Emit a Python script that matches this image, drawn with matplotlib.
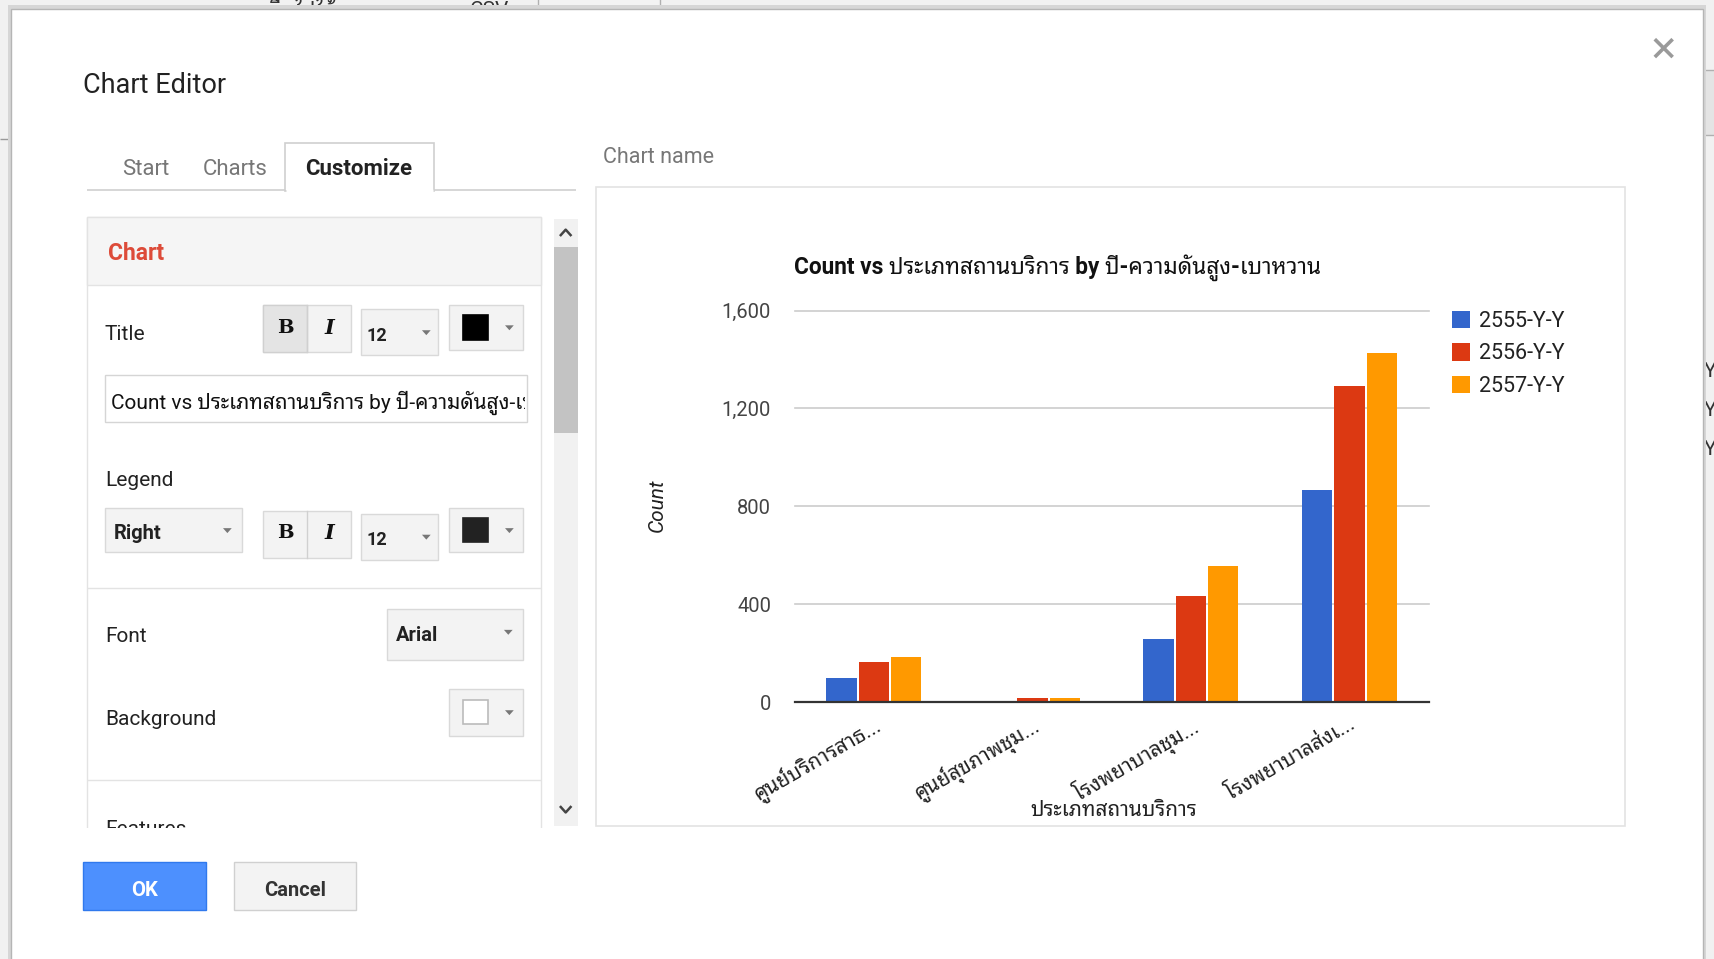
import matplotlib
matplotlib.use("Agg")
import numpy as np
import matplotlib.pyplot as plt
from matplotlib.patches import Rectangle, Polygon
from matplotlib.transforms import Bbox, TransformedBbox

plt.rcParams["font.family"] = ["Roboto", "Noto Sans Thai Looped", "DejaVu Sans"]

# ===== data =====
categories = ["ศูนย์บริการสาธ...", "ศูนย์สุขภาพชุม...", "โรงพยาบาลชุม...", "โรงพยาบาลส่งเ..."]
series_names = ["2555-Y-Y", "2556-Y-Y", "2557-Y-Y"]
y2555 = [98, 6, 258, 867]
y2556 = [165, 18, 433, 1292]
y2557 = [183, 17, 554, 1426]
yticks = [0, 400, 800, 1200, 1600]
ytick_labels = ["0", "400", "800", "1,200", "1,600"]
chart_title = "Count vs ประเภทสถานบริการ by ปี-ความดันสูง-เบาหวาน"
x_title = "ประเภทสถานบริการ"
y_title = "Count"
COLORS = ["#3366cc", "#dc3912", "#ff9900"]

# layout is done in the 1568x877 screen space, figure is 1714x959 px
W, H = 1568, 877
fig = plt.figure(figsize=(17.14, 9.59), dpi=100)
fig.patch.set_facecolor("#f1f1f1")

ui = fig.add_axes([0, 0, 1, 1], zorder=0)
ui.set_xlim(0, W)
ui.set_ylim(H, 0)
ui.axis("off")


def rect(x0, y0, x1, y1, fc="white", ec="none", lw=1.0, z=1):
    ui.add_patch(Rectangle((x0, y0), x1 - x0, y1 - y0, facecolor=fc, edgecolor=ec, lw=lw, zorder=z))


def hline(x0, x1, y, c="#e3e3e3", lw=1.0, z=2):
    ui.plot([x0, x1], [y, y], color=c, lw=lw, zorder=z, solid_capstyle="butt")


def txt(x, y, s, size=15, c="#222222", ha="left", va="center", weight="normal", z=3, dy=2, **kw):
    # small nudge: centred text sits a touch higher than in the screenshot
    if va == "center":
        y = y + dy
    return ui.text(x, y, s, fontsize=size, color=c, ha=ha, va=va, fontweight=weight, zorder=z, **kw)


def arrow_down(x, y, c="#777777"):
    ui.add_patch(Polygon([[x - 4, y - 2], [x + 4, y - 2], [x, y + 2.5]], closed=True,
                         facecolor=c, edgecolor="none", zorder=4))


# --- page behind the dialog ---
txt(245, 0.5, "ดื่มไปได้", size=15, c="#333333", va="top", z=0.5)
txt(430, 0.5, "CSV", size=15, c="#333333", va="top", z=0.5)
rect(492, -2, 604, 9, fc="#f3f3f3", ec="#b0b0b0", z=0.5)
hline(0, 10, 127, c="#9a9a9a", z=0.5)
rect(1558, 64, 1575, 123, fc="#e4e4e4", ec="#b0b0b0", z=0.5)
for yy in (338, 373, 409):
    txt(1559, yy, "Y", size=15, c="#333333", z=0.5)

# --- dialog ---
rect(7, 5, 1561, 890, fc="#d6d6d6", ec="none", z=0.8)
rect(10, 8, 1558, 900, fc="white", ec="#b5b5b5", lw=1, z=0.9)
txt(76, 76, "Chart Editor", size=19.5, c="#222222")
ui.plot([1515, 1529], [37, 51], color="#9a9a9a", lw=2.6, zorder=3)
ui.plot([1515, 1529], [51, 37], color="#9a9a9a", lw=2.6, zorder=3)

# tabs
hline(80, 527, 174, c="#cfcfcf", lw=1.2)
rect(261, 131, 397, 175, fc="white", ec="#cfcfcf", lw=1.2, z=2.5)
hline(262, 396, 175, c="white", lw=2.5, z=2.6)
txt(133, 153, "Start", size=16, c="#777777", ha="center")
txt(215, 153, "Charts", size=16, c="#777777", ha="center")
txt(328, 153, "Customize", size=16, c="#222222", ha="center", weight="bold")

# left panel
rect(80, 198, 495, 760, fc="white", ec="#e3e3e3", z=1)
rect(80, 198, 495, 261, fc="#f5f5f5", ec="#e3e3e3", z=1.2)
hline(80, 495, 538)
hline(80, 495, 713)
txt(99, 230, "Chart", size=16.5, c="#dd4b39", weight="bold")

txt(96, 304, "Title", size=15)
txt(96, 437, "Legend", size=15)
txt(96, 580, "Font", size=15)
txt(96, 656, "Background", size=15)
txt(96, 757, "Features", size=15, z=1.5)
rect(78, 757, 500, 790, fc="white", ec="none", z=1.8)


def bold_italic(y0, y1, pressed):
    rect(241, y0, 321, y1, fc="#f3f3f3", ec="#d9d9d9", z=2)
    if pressed:
        rect(241, y0, 281, y1, fc="#e4e4e4", ec="#d0d0d0", z=2.1)
    ui.plot([281, 281], [y0, y1], color="#d0d0d0", lw=1, zorder=2.2)
    ym = (y0 + y1) / 2 - 1
    txt(261, ym, "B", size=14, c="#111111", ha="center", weight="bold", family="DejaVu Serif", dy=0)
    txt(301, ym, "I", size=15, c="#111111", ha="center", weight="bold", style="italic",
        family="DejaVu Serif", dy=0)


def size_box(y0, y1):
    rect(330, y0, 401, y1, fc="#f3f3f3", ec="#d9d9d9", z=2)
    txt(335, (y0 + y1) / 2 + 1, "12", size=13, c="#222222", weight="bold")
    arrow_down(390, (y0 + y1) / 2)


def color_box(y0, y1, swatch, sw_ec):
    rect(411, y0, 478, y1, fc="#f3f3f3", ec="#d9d9d9", z=2)
    ym = (y0 + y1) / 2
    rect(424, ym - 11, 446, ym + 11, fc=swatch, ec=sw_ec, lw=1.2, z=2.3)
    arrow_down(466, ym)


bold_italic(279, 322, True)
size_box(283, 325)
color_box(279, 320, "#000000", "#000000")

rect(96, 343, 482, 386, fc="white", ec="#d5d5d5", z=2)
t = txt(102, 366, chart_title, size=15, c="#111111")
t.set_clip_box(TransformedBbox(Bbox([[96, 343], [480, 386]]), ui.transData))
t.set_clip_on(True)

rect(96, 465, 221, 505, fc="#f3f3f3", ec="#d9d9d9", z=2)
txt(104, 486, "Right", size=14.5, c="#222222", weight="bold")
arrow_down(208, 485)
bold_italic(467, 510, False)
size_box(470, 512)
color_box(465, 505, "#222222", "#222222")

rect(354, 557, 478, 604, fc="#f3f3f3", ec="#d9d9d9", z=2)
txt(362, 579, "Arial", size=14.5, c="#222222", weight="bold")
arrow_down(465, 578)
color_box(630, 673, "white", "#bbbbbb")

# scrollbar
rect(507, 200, 529, 755, fc="#f1f1f1", ec="none", z=2)
rect(507, 226, 529, 396, fc="#c3c3c3", ec="none", z=2.1)
ui.plot([513, 517.5, 522], [215, 210, 215], color="#444444", lw=1.8, zorder=3)
ui.plot([513, 517.5, 522], [738, 743, 738], color="#444444", lw=1.8, zorder=3)

# buttons
rect(76, 788, 188, 832, fc="#4d90fe", ec="#3079ed", z=2)
txt(132, 812, "OK", size=14.5, c="white", ha="center", weight="bold")
rect(214, 788, 326, 832, fc="#f3f3f3", ec="#d0d0d0", z=2)
txt(270, 812, "Cancel", size=14.5, c="#333333", ha="center", weight="bold")

# chart preview
txt(552, 142, "Chart name", size=15.5, c="#777777")
rect(545, 171, 1487, 755, fc="white", ec="#e3e3e3", lw=1.2, z=1)
txt(726, 243, chart_title, size=16.3, c="#111111", weight="bold")
txt(601, 462, y_title, size=15, c="#222222", ha="center", rotation=90, style="italic", dy=0)
txt(1019, 741, x_title, size=15, c="#222222", ha="center", style="italic", dy=0)

# ===== bar chart =====
px0, px1, py_top, py_zero = 727, 1307, 284, 642
ax = fig.add_axes([px0 / W, 1 - py_zero / H, (px1 - px0) / W, (py_zero - py_top) / H], zorder=2)
ax.patch.set_alpha(0)
x = np.arange(len(categories))
bw = 0.19
off = 0.205
for i, (vals, name) in enumerate(zip([y2555, y2556, y2557], series_names)):
    ax.bar(x + (i - 1) * off, vals, bw, color=COLORS[i], label=name, zorder=3)

ax.set_xlim(-0.5, 3.5)
ax.set_ylim(0, 1600)
ax.set_yticks(yticks)
ax.set_yticklabels(ytick_labels, fontsize=14.5, color="#444444")
for v in yticks[1:]:
    ax.axhline(v, color="#cccccc", lw=1.2, zorder=1, clip_on=False)
ax.axhline(0, color="#333333", lw=1.6, zorder=4, clip_on=False)
ax.set_xticks(x)
ax.set_xticklabels(categories, fontsize=15, color="#222222", rotation=30, ha="right",
                   rotation_mode="anchor")
ax.tick_params(axis="y", length=0, pad=17)
ax.tick_params(axis="x", length=0, pad=8)
for s in ax.spines.values():
    s.set_visible(False)

ax.legend(loc="upper left", bbox_to_anchor=(1328 / W, 1 - 284 / H), bbox_transform=fig.transFigure,
          frameon=False, fontsize=15.5, handlelength=0.85, handleheight=0.85,
          handletextpad=0.4, labelspacing=0.55, borderpad=0, borderaxespad=0,
          labelcolor="#222222")

fig.savefig("out.png", dpi=100, facecolor=fig.get_facecolor())
